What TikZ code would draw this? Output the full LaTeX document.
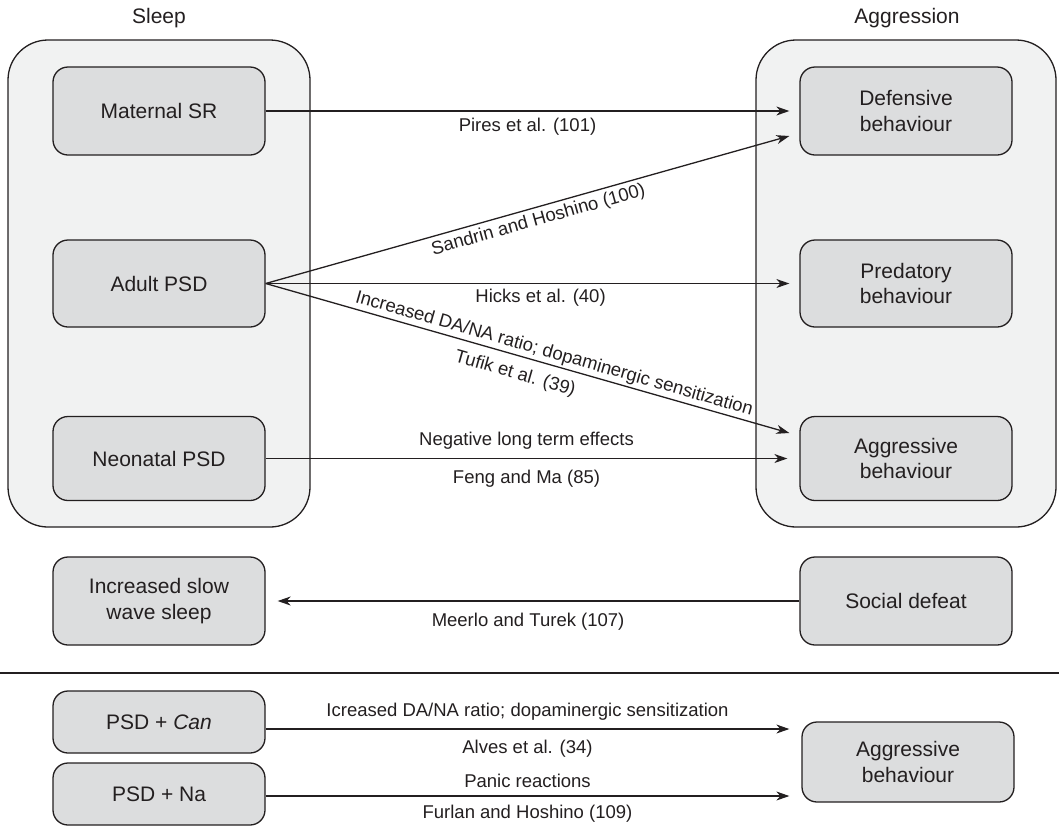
\documentclass[tikz,border=0pt]{standalone}
\usepackage{fontspec}
\setmainfont{Liberation Sans}
\usetikzlibrary{arrows.meta,calc}
\definecolor{ink}{HTML}{231F20}
\definecolor{boxfill}{HTML}{DCDDDE}
\definecolor{panelfill}{HTML}{F1F2F2}

\begin{document}
\begin{tikzpicture}[x=0.5pt,y=-0.5pt,
  every node/.style={text=ink},
  panel/.style={draw=ink, fill=panelfill, line width=0.65pt, rounded corners=20pt,
    minimum height=243.5pt, inner sep=0pt},
  box/.style={draw=ink, fill=boxfill, line width=0.65pt, rounded corners=7.5pt,
    minimum width=106pt, align=center, inner sep=0pt,
    font=\fontsize{10.5}{12.75}\selectfont},
  head/.style={font=\fontsize{10.5}{12.75}\selectfont},
  lbl/.style={font=\fontsize{9.25}{11}\selectfont, inner sep=0pt},
  link/.style={draw=ink, line width=0.65pt,
    -{Stealth[length=6.5pt,width=4.5pt,inset=2pt]}},
  rule/.style={draw=ink, line width=0.65pt},
]
\useasboundingbox (0,0) rectangle (1059,826);

% group panels and their titles
\node[panel, minimum width=151pt] (sleep) at (159,283.5) {};
\node[panel, minimum width=150pt] (aggr) at (906,283.5) {};
\node[head] (sleeph) at (159,18) {Sleep};
\node[head] (aggrh) at (907,18) {Aggression};

% sleep side
\node[box, minimum height=44pt]   (msr)  at (159,111)   {Maternal SR};
\node[box, minimum height=43.5pt] (apsd) at (159,283.5) {Adult PSD};
\node[box, minimum height=42pt]   (npsd) at (159,458.5) {Neonatal PSD};

% aggression side
\node[box, minimum height=44pt]   (def)  at (906,111)   {Defensive\\behaviour};
\node[box, minimum height=43.5pt] (pred) at (906,283.5) {Predatory\\behaviour};
\node[box, minimum height=42pt]   (agg)  at (906,458.5) {Aggressive\\behaviour};

% social defeat row
\node[box, minimum height=44pt] (isws) at (159,601) {Increased slow\\wave sleep};
\node[box, minimum height=44pt] (sd)   at (906,601) {Social defeat};

% lower section
\node[box, minimum height=31pt] (can)  at (159,722) {PSD + \textit{Can}};
\node[box, minimum height=31pt] (na)   at (159,794) {PSD + Na};
\node[box, minimum height=40pt] (agg2) at (908,762) {Aggressive\\behaviour};

\coordinate (ruleL) at (0,673);
\coordinate (ruleR) at (1059,673);
\draw[rule] (ruleL) -- (ruleR);

% connectors
\draw[link] (msr.east) -- ($(def.west)+(-10,0)$)
  node[lbl, below=3pt, pos=0.5] {Pires et al. (101)};
\draw[link] (apsd.east) -- ($(def.west)+(-10,25)$)
  node[lbl, below=2pt, sloped, pos=0.514] {Sandrin and Hoshino (100)};
\draw[link] (apsd.east) -- ($(pred.west)+(-10,0)$)
  node[lbl, below=2.4pt, pos=0.525] {Hicks et al. (40)};
\draw[link] (apsd.east) -- ($(agg.west)+(-10,-25.5)$)
  node[lbl, above=1pt, sloped, pos=0.545] {Increased DA/NA ratio; dopaminergic sensitization}
  node[lbl, below=4.6pt, sloped, pos=0.486] {Tufik et al. (39)};
\draw[link] (npsd.east) -- ($(agg.west)+(-12,0)$)
  node[lbl, above=4.2pt, pos=0.5] {Negative long term effects}
  node[lbl, below=5.6pt, pos=0.5] {Feng and Ma (85)};
\draw[link] (sd.west) -- ($(isws.east)+(12,0)$)
  node[lbl, below=5.6pt, pos=0.52] {Meerlo and Turek (107)};
\draw[link] ($(can.east)+(0,7)$) -- ($(agg2.west)+(-12,-33)$)
  node[lbl, above=4.2pt, pos=0.5] {Icreased DA/NA ratio; dopaminergic sensitization}
  node[lbl, below=5.2pt, pos=0.5] {Alves et al. (34)};
\draw[link] ($(na.east)+(0,2)$) -- ($(agg2.west)+(-12,34)$)
  node[lbl, above=3.7pt, pos=0.5] {Panic reactions}
  node[lbl, below=4.2pt, pos=0.5] {Furlan and Hoshino (109)};
\end{tikzpicture}
\end{document}
